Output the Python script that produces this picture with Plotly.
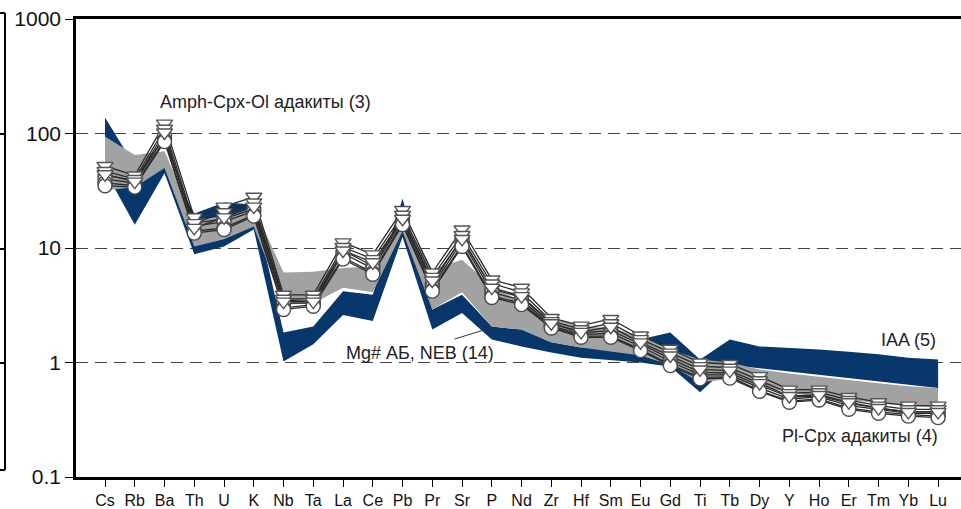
import plotly.graph_objects as go

elements = ["Cs", "Rb", "Ba", "Th", "U", "K", "Nb", "Ta", "La", "Ce", "Pb", "Pr", "Sr", "P", "Nd",
            "Zr", "Hf", "Sm", "Eu", "Gd", "Ti", "Tb", "Dy", "Y", "Ho", "Er", "Tm", "Yb", "Lu"]

# IAA (5) field - dark blue band
iaa_upper = [138, 52, 60, 20, 25, 24, 1.83, 2.06, 4.2, 3.9, 27, 2.9, 3.9, 2.06, 1.94,
             1.5, 1.35, 1.6, 1.6, 1.83, 1.06, 1.59, 1.38, 1.34, 1.3, 1.24, 1.18, 1.1, 1.06]
iaa_lower = [47, 16, 45, 8.8, 10.3, 14.5, 1.02, 1.44, 2.6, 2.3, 12.5, 1.94, 2.7, 1.59, 1.38,
             1.22, 1.1, 1.05, 1.0, 0.92, 0.55, 0.95, 0.88, 0.83, 0.78, 0.73, 0.68, 0.64, 0.6]

# Mg# AB, NEB (14) field - gray band
neb_upper = [94, 65, 70, 17.7, 18.8, 23, 6.1, 6.2, 6.7, 6.9, 18.8, 6.5, 7.9, 4.6, 3.4,
             2.5, 2.06, 2.0, 1.7, 1.3, 1.06, 1.0, 0.87, 0.8, 0.75, 0.7, 0.66, 0.62, 0.6]
neb_lower = [32, 34, 50, 10.3, 11.9, 15.4, 3.2, 3.3, 4.5, 4.1, 14, 2.9, 4.1, 2.06, 1.94,
             1.5, 1.35, 1.25, 1.15, 0.95, 0.67, 0.72, 0.62, 0.55, 0.5, 0.47, 0.44, 0.42, 0.4]

# Adakite samples (triangles: upper group, circles: lower group)
tri_1 = [52, 43, 122, 18.5, 23, 28, 3.9, 3.9, 11.2, 8.8, 21.5, 6.1, 14.5, 5.3, 4.5,
         2.45, 2.1, 2.4, 1.72, 1.32, 1.0, 0.97, 0.76, 0.58, 0.58, 0.5, 0.45, 0.42, 0.42]
tri_2 = [47, 40, 110, 16.5, 20.5, 25, 3.6, 3.6, 10.2, 8.0, 19.5, 5.6, 13.0, 4.9, 4.1,
         2.3, 1.95, 2.2, 1.6, 1.22, 0.93, 0.9, 0.7, 0.54, 0.55, 0.47, 0.42, 0.39, 0.39]
tri_3 = [44, 38, 102, 15, 18.5, 23, 3.4, 3.4, 9.5, 7.5, 18, 5.2, 12, 4.5, 3.8,
         2.2, 1.85, 2.05, 1.5, 1.15, 0.87, 0.85, 0.66, 0.51, 0.52, 0.45, 0.4, 0.37, 0.37]
circ_1 = [43, 39, 92, 16.5, 18, 22, 3.5, 3.4, 9.5, 7.0, 18.5, 4.9, 12.3, 4.4, 3.7,
          2.2, 1.82, 1.9, 1.45, 1.08, 0.82, 0.81, 0.63, 0.5, 0.51, 0.44, 0.4, 0.37, 0.37]
circ_2 = [40, 37, 95, 15.5, 17, 21, 3.3, 3.3, 9.0, 6.6, 17.5, 4.6, 11.5, 4.1, 3.5,
          2.1, 1.75, 1.8, 1.38, 1.02, 0.78, 0.78, 0.6, 0.48, 0.5, 0.42, 0.39, 0.36, 0.36]
circ_3 = [37, 35, 88, 14, 15, 19.5, 3.0, 3.2, 8.3, 6.1, 16.5, 4.3, 10.7, 3.8, 3.3,
          2.05, 1.7, 1.7, 1.3, 0.96, 0.74, 0.75, 0.57, 0.46, 0.48, 0.4, 0.37, 0.35, 0.34]
circ_4 = [35, 34, 85, 13.5, 14.5, 19, 2.9, 3.1, 8.0, 5.9, 16, 4.2, 10.3, 3.7, 3.2,
          2.0, 1.66, 1.66, 1.27, 0.94, 0.72, 0.73, 0.56, 0.45, 0.47, 0.39, 0.36, 0.34, 0.33]

tri_series = [tri_1, tri_2, tri_3]
circ_series = [circ_1, circ_2, circ_3, circ_4]

xs = list(range(len(elements)))
BLUE = "#08386b"
GRAY = "#a2a2a2"

fig = go.Figure()

def band(upper, lower, color):
    fig.add_trace(go.Scatter(
        x=xs + xs[::-1], y=upper + lower[::-1], fill="toself", fillcolor=color,
        mode="lines", line=dict(width=0, color=color), hoverinfo="skip", showlegend=False))

band(iaa_upper, iaa_lower, BLUE)
band(neb_upper, neb_lower, GRAY)

for s in tri_series + circ_series:
    fig.add_trace(go.Scatter(x=xs, y=s, mode="lines", line=dict(color="#2a2a2a", width=1.3),
                             showlegend=False, hoverinfo="skip"))
for s in circ_series:
    fig.add_trace(go.Scatter(x=xs, y=s, mode="markers", showlegend=False,
                             marker=dict(symbol="circle", size=14, color="white",
                                         line=dict(color="#4a4a4a", width=1.4))))
for s in tri_series:
    fig.add_trace(go.Scatter(x=xs, y=s, mode="markers", showlegend=False,
                             marker=dict(symbol="triangle-down", size=14, color="white",
                                         line=dict(color="#555555", width=1.4))))

FONT = "Liberation Sans, Arial, sans-serif"
ann_font = dict(family=FONT, size=18, color="#222222")
annotations = [
    dict(x=5.38, y=2.271, text="Amph-Cpx-Ol адакиты (3)", showarrow=False,
         xanchor="center", yanchor="middle", font=ann_font),
    dict(x=10.57, y=0.079, text="Mg# АБ, NEB (14)", showarrow=False,
         xanchor="center", yanchor="middle", font=ann_font),
    dict(x=28.0, y=0.20, text="IAA (5)", showarrow=False,
         xanchor="right", yanchor="middle", font=ann_font),
    dict(x=28.07, y=-0.646, text="Pl-Cpx адакиты (4)", showarrow=False,
         xanchor="right", yanchor="middle", font=ann_font),
    dict(x=13.01, y=0.306, ax=11.70, ay=0.201, axref="x", ayref="y", text="",
         showarrow=True, arrowhead=2, arrowsize=0.8, arrowwidth=1, arrowcolor="#333333"),
]

# fragment of neighbouring panel at the left edge
shapes = []
lx0, lx1 = -0.0859, -0.0802
for (a, b, c, d) in [(lx0, 1.0131, lx1, 1.0131), (lx1, 1.0131, lx1, 0.0153), (lx0, 0.0153, lx1, 0.0153),
                     (lx0, 0.7489, lx1, 0.7489), (lx0, 0.4978, lx1, 0.4978), (lx0, 0.2489, lx1, 0.2489)]:
    shapes.append(dict(type="line", xref="paper", yref="paper", x0=a, y0=b, x1=c, y1=d,
                       line=dict(color="black", width=2)))

fig.update_layout(
    width=961, height=509,
    margin=dict(l=76, r=0, t=19, b=32),
    paper_bgcolor="white", plot_bgcolor="white",
    showlegend=False,
    annotations=annotations,
    shapes=shapes,
    xaxis=dict(range=[-0.975, 28.77], tickmode="array", tickvals=xs, ticktext=elements,
               showgrid=False, zeroline=False, showline=True, linecolor="black", linewidth=2.5,
               mirror=True, ticks="outside", ticklen=7, tickcolor="black", tickwidth=1,
               tickfont=dict(family="Liberation Sans Narrow, Arial Narrow, Liberation Sans, sans-serif",
                             size=16, color="#111111")),
    yaxis=dict(type="log", range=[-1, 3], tickmode="array",
               tickvals=[0.1, 1, 10, 100, 1000], ticktext=["0.1", "1", "10", "100", "1000"],
               showgrid=True, gridcolor="#444444", gridwidth=1, griddash="12px,7px",
               zeroline=False, showline=True, linecolor="black", linewidth=2.5,
               ticks="outside", ticklen=8, tickcolor="black", tickwidth=1,
               tickfont=dict(family=FONT, size=21, color="#111111")),
)

fig.write_html("out.html", config={"displayModeBar": False},
               post_script="document.body.style.margin='0';document.body.style.overflow='hidden';")
